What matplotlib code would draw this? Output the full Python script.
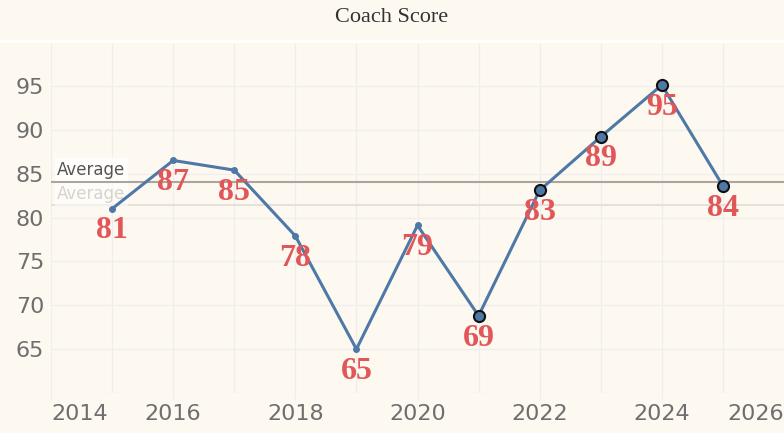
import matplotlib
matplotlib.use("Agg")
import matplotlib.pyplot as plt

years = [2015, 2016, 2017, 2018, 2019, 2020, 2021, 2022, 2023, 2024, 2025]
scores = [81.0, 86.5, 85.4, 77.9, 65.0, 79.1, 68.8, 83.1, 89.2, 95.1, 83.6]
labels = ["81", "87", "85", "78", "65", "79", "69", "83", "89", "95", "84"]
highlight_from = 2021
avg_main = 84.0
avg_faded = 81.4
yticks = [65, 70, 75, 80, 85, 90, 95]
xticks = [2014, 2016, 2018, 2020, 2022, 2024, 2026]

bg = "#FDF9F1"
blue = "#4E79A7"
red = "#E15759"

fig = plt.figure(figsize=(7.84, 4.33), dpi=100, facecolor=bg)
ax = fig.add_axes([51/784, 1-393/433, 1-51/784, (393-42)/433])
ax.set_facecolor(bg)
ax.set_xlim(2014, 2026)
ax.set_ylim(60, 100)

# grid
for yr in range(2014, 2026):
    ax.axvline(yr, color="#F0EEEA", lw=0.9, zorder=0)
for yv in yticks + [60]:
    ax.axhline(yv, color="#F0EEEA", lw=0.9, zorder=0)

for s in ax.spines.values():
    s.set_visible(False)

# reference lines
ax.axhline(avg_faded, color="#E6E1D8", lw=1.5, zorder=1)
ax.axhline(avg_main, color="#ABA59C", lw=1.5, zorder=1)
ax.text(2014.1, avg_main + 0.4, "Average", fontsize=12, color="#555555",
        ha="left", va="bottom", zorder=2,
        bbox=dict(boxstyle="square,pad=0.15", fc="white", ec="none", alpha=0.8))
ax.text(2014.1, avg_main - 0.3, "Average", fontsize=12, color="#D8D4CC",
        ha="left", va="top", zorder=2,
        bbox=dict(boxstyle="square,pad=0.15", fc="white", ec="none", alpha=0.5))

# line
ax.plot(years, scores, color=blue, lw=2.2, zorder=3, solid_capstyle="round")
small_x = [x for x in years if x < highlight_from]
small_y = [y for x, y in zip(years, scores) if x < highlight_from]
big_x = [x for x in years if x >= highlight_from]
big_y = [y for x, y in zip(years, scores) if x >= highlight_from]
ax.plot(small_x, small_y, "o", color=blue, ms=4, zorder=4)
ax.plot(big_x, big_y, "o", mfc=blue, mec="#111111", mew=1.5, ms=8, zorder=4)

for x, y, lab in zip(years, scores, labels):
    ax.annotate(lab, (x, y), xytext=(0, -16), textcoords="offset points",
                ha="center", va="center", fontsize=23, fontweight="bold",
                family="Liberation Serif", color=red, zorder=5)

ax.set_yticks(yticks)
ax.set_yticklabels([str(v) for v in yticks], fontsize=16, color="#6E6E6E")
ax.set_xticks(xticks)
xl = ax.set_xticklabels([str(v) for v in xticks], fontsize=16, color="#6E6E6E")
xl[0].set_ha("left")
xl[-1].set_ha("right")
ax.tick_params(axis="y", length=0, pad=5)
ax.tick_params(axis="x", length=5, color="#F0EEEA", pad=3)

fig.text(0.5, 1-18/433, "Coach Score", ha="center", va="center",
         fontsize=16, family="Liberation Serif", color="#333333")
fig.add_artist(plt.Line2D([0, 1], [1-41/433, 1-41/433], color="white", lw=2))

fig.savefig("out.png", dpi=100, facecolor=bg)
